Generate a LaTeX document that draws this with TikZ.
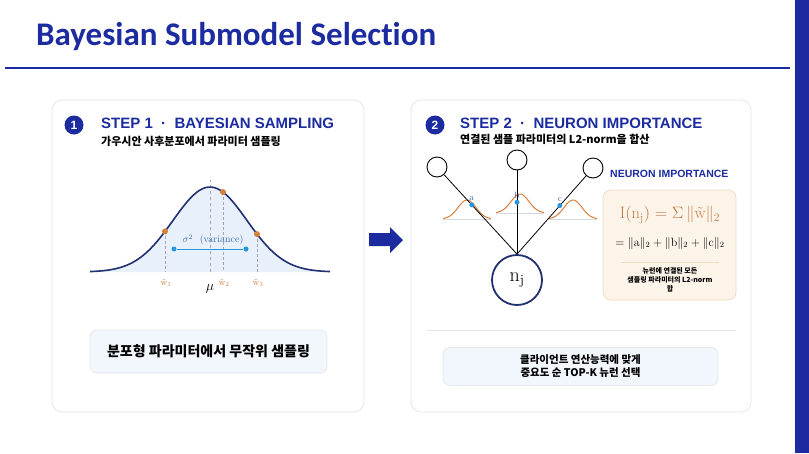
\RequirePackage{fix-cm}
\documentclass[tikz,border=0pt]{standalone}
\usepackage{amsmath}
\usepackage{fontspec}
\usetikzlibrary{positioning}
\newfontfamily\titlefont{Carlito}[Ligatures = NoCommon]
\newfontfamily\headfont{Liberation Sans}
\newfontfamily\kofont{Noto Sans CJK KR}
\definecolor{deepblue}{RGB}{28,44,160}
\definecolor{curveblue}{RGB}{32,48,112}
\definecolor{fillblue}{RGB}{232,241,251}
\definecolor{notefill}{RGB}{242,247,253}
\definecolor{dotorange}{RGB}{214,128,60}
\definecolor{dotblue}{RGB}{40,150,220}
\definecolor{varblue}{RGB}{58,110,176}
\definecolor{panelgray}{RGB}{230,231,236}
\definecolor{peach}{RGB}{252,244,233}
\definecolor{peachline}{RGB}{240,220,192}
\definecolor{formula}{RGB}{192,128,80}
\begin{document}
\begin{tikzpicture}[x = 1pt, y = -1pt,
	panel/.style = {draw = panelgray, fill = white, rounded corners = 10pt, line width = 0.8pt},
	stepnum/.style = {circle, fill = deepblue, text = white, minimum size = 19pt, inner sep = 0pt, font = \headfont\bfseries\fontsize{12}{12}\selectfont},
	steptitle/.style = {anchor = west, inner sep = 0pt, text = deepblue, font = \headfont\bfseries\fontsize{15}{15}\selectfont},
	subtitle/.style = {anchor = west, inner sep = 0pt, font = \kofont\bfseries\fontsize{11}{11}\selectfont},
	notebox/.style = {draw = panelgray, fill = notefill, rounded corners = 7pt, align = center, line width = 0.8pt},
	sample/.style = {circle, fill = dotorange, inner sep = 0pt, minimum size = 6pt},
	weight/.style = {circle, fill = dotblue, inner sep = 0pt, minimum size = 5pt},
	wlabel/.style = {text = dotorange, font = \fontsize{9}{9}\selectfont},
	neuron/.style = {circle, draw, fill = white, line width = 0.9pt, minimum size = 20pt, inner sep = 0pt}]
	\fill[white] (0, 0) rectangle (809, 453);
	\useasboundingbox (0, 0) rectangle (809, 453);
	\node[anchor = west, inner sep = 0pt, text = deepblue, font = \titlefont\bfseries\fontsize{33}{34}\selectfont] (title) at (36, 37) {Bayesian Submodel Selection};
	\draw[deepblue, line width = 1.8pt] (5, 68) -- (790, 68);
	\fill[deepblue] (795, 0) rectangle (809, 453);
	\draw[panel] (52, 100) rectangle (364, 412);
	\draw[panel] (411, 100) rectangle (751, 412);
	\fill[deepblue] (369, 233) -- (390, 233) -- (390, 227) -- (403, 240) -- (390, 253) -- (390, 246) -- (369, 246) -- cycle;
	% step 1
	\node[stepnum] (s1) at (74, 125) {1};
	\node[steptitle] (t1) at (101, 123) {STEP 1 \ · \ BAYESIAN SAMPLING};
	\node[subtitle] (k1) at (101, 141) {가우시안 사후분포에서 파라미터 샘플링};
	\fill[fillblue] (90, 272) -- plot[domain = 90:330, variable = \x, samples = 80] ({\x}, {272 - 85 * exp(((\x - 210)^2) / (-2738))}) -- (330, 272) -- cycle;
	\draw[gray!70, dashed, thin] (210, 272) -- (210, 180);
	\draw[curveblue, line width = 1.6pt] plot[domain = 90:330, variable = \x, samples = 80] ({\x}, {272 - 85 * exp(((\x - 210)^2) / (-2738))});
	\foreach \n/\px in {1/165, 2/223, 3/257}
	{
		\coordinate (c\n) at ({\px}, {272 - 85 * exp(((\px - 210)^2) / (-2738))});
		\draw[gray!70, densely dashed, thin] (c\n) -- (\px, 272);
		\node[sample] (w\n) at (c\n) {};
		\node[wlabel] (lw\n) at (\px + 1, 283) {$\tilde{\mathrm{w}}_\n$};
	}
	\node[font = \fontsize{14}{14}\selectfont] (mu) at (210, 289) {$\mu$};
	\node[text = varblue, font = \fontsize{10}{10}\selectfont] (var) at (213, 240) {$\sigma^2$ \ (variance)};
	\node[weight] (v1) at (174, 249) {};
	\node[weight] (v2) at (246, 249) {};
	\draw[dotblue, line width = 1pt] (v1) -- (v2);
	\node[notebox, minimum width = 237pt, minimum height = 43pt, font = \kofont\bfseries\fontsize{14}{14}\selectfont] (box1) at (208.5, 351.5) {분포형 파라미터에서 무작위 샘플링};
	% step 2
	\node[stepnum] (s2) at (435, 125) {2};
	\node[steptitle] (t2) at (460, 123) {STEP 2 \ · \ NEURON IMPORTANCE};
	\node[subtitle] (k2) at (460, 139) {연결된 샘플 파라미터의 L2-norm을 합산};
	\foreach \cx/\cy in {467/219, 520/213, 573/219}
	{
		\draw[fillblue!80!gray, thin] (\cx - 24, \cy) -- (\cx + 24, \cy);
		\draw[dotorange, line width = 1pt] plot[domain = -24:24, variable = \t, samples = 40] ({\cx + \t}, {\cy - 19 * exp(\t * \t / (-160))});
	}
	\node[neuron] (x1) at (437, 167) {};
	\node[neuron] (x2) at (517, 160) {};
	\node[neuron] (x3) at (593, 168) {};
	\node[neuron, draw = curveblue, line width = 1.8pt, minimum size = 50pt, font = \fontsize{20}{20}\selectfont] (nj) at (517, 280) {$\mathrm{n_j}$};
	\foreach \i/\lab in {1/a, 2/b, 3/c}
	{
		\draw[line width = 0.8pt] (x\i) -- (nj.north) node[weight, pos = 0.38] (p\i) {};
		\node[above = 0pt of p\i, text = varblue, font = \fontsize{9}{9}\selectfont, inner sep = 1pt] (l\i) {\lab};
	}
	\node[anchor = west, inner sep = 0pt, text = deepblue, font = \headfont\bfseries\fontsize{10.5}{11}\selectfont] (nilabel) at (610, 174) {NEURON IMPORTANCE};
	\node[draw = peachline, fill = peach, rounded corners = 8pt, line width = 0.8pt, minimum width = 133pt, minimum height = 110pt] (ibox) at (669.5, 245) {};
	\node[text = formula, font = \fontsize{16.5}{16.5}\selectfont] (f1) at (670, 215) {$\mathrm{I(n_j)} = \Sigma\, \lVert\tilde{\mathrm{w}}\rVert_2$};
	\node[font = \fontsize{12}{12}\selectfont] (f2) at (670, 243) {$= \lVert\mathrm{a}\rVert_2 + \lVert\mathrm{b}\rVert_2 + \lVert\mathrm{c}\rVert_2$};
	\draw[peachline] (621, 262) -- (719, 262);
	\node[align = center, font = \kofont\bfseries\fontsize{7}{9.3}\selectfont] (f3) at (670, 280) {뉴런에 연결된 모든\\샘플링 파라미터의 L2-norm\\합};
	\draw[panelgray, line width = 0.8pt] (427, 330) -- (736, 330);
	\node[notebox, minimum width = 275pt, minimum height = 38pt, font = \kofont\bfseries\fontsize{10.5}{13}\selectfont] (box2) at (580.5, 366.5) {클라이언트 연산능력에 맞게\\중요도 순 TOP-K 뉴런 선택};
\end{tikzpicture}
\end{document}
